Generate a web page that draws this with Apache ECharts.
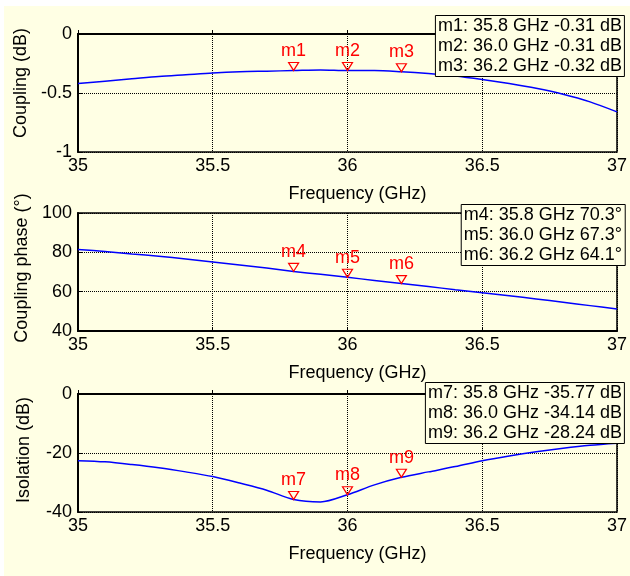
<!DOCTYPE html>
<html>
<head>
<meta charset="utf-8">
<script src="https://cdn.jsdelivr.net/npm/echarts@6/dist/echarts.min.js"></script>
<style>
  html, body { margin: 0; padding: 0; background: #fff; }
  #bg { position: absolute; left: 4px; top: 6px; right: 0; bottom: 0; background: #ffffe4; }
  #chart { position: absolute; left: 0; top: 0; width: 630px; height: 576px; }
</style>
</head>
<body>
<div id="bg"></div>
<div id="chart"></div>
<script>
// frequency points (GHz)
var freq = [35.0, 35.1, 35.2, 35.3, 35.4, 35.5, 35.6, 35.7, 35.8, 35.9, 36.0,
            36.1, 36.2, 36.3, 36.4, 36.5, 36.6, 36.7, 36.8, 36.9, 37.0];
var coupling = [-0.42, -0.40, -0.38, -0.36, -0.345, -0.33, -0.32, -0.315, -0.31, -0.305, -0.31,
                -0.31, -0.32, -0.335, -0.355, -0.385, -0.42, -0.46, -0.51, -0.575, -0.66];
var phase = [81.5, 80.4, 79.2, 78.0, 76.6, 75.1, 73.6, 72.0, 70.3, 68.8, 67.3,
             65.7, 64.1, 62.6, 61.0, 59.5, 57.9, 56.3, 54.6, 52.9, 51.2];
var isolation = [-22.6, -23.0, -23.9, -25.0, -26.4, -28.0, -30.2, -32.6, -35.77, -36.6, -34.14,
                 -30.8, -28.24, -26.4, -24.6, -22.6, -21.0, -19.6, -18.4, -17.4, -16.7];

// markers
var markerFreq = [35.8, 36.0, 36.2];
var couplingMarks = [-0.31, -0.31, -0.32];
var phaseMarks = [70.3, 67.3, 64.1];
var isolationMarks = [-35.77, -34.14, -28.24];

var chart = echarts.init(document.getElementById('chart'));
var font = 'Arial, "Liberation Sans", sans-serif';
var yellow = '#ffffe4';

function pairs(ys) {
  return freq.map(function (f, i) { return [f, ys[i]]; });
}

function marks(ys, first) {
  return markerFreq.map(function (f, i) {
    return { name: 'm' + (first + i), coord: [f, ys[i]] };
  });
}

function legendText(ys, first, unit, digits) {
  return markerFreq.map(function (f, i) {
    return 'm' + (first + i) + ': ' + f.toFixed(1) + ' GHz ' + ys[i].toFixed(digits) + unit;
  }).join('\n');
}

var tops = [34, 213, 394];
var yNames = ['Coupling (dB)', 'Coupling phase (°)', 'Isolation (dB)'];
var yRange = [[-1, 0, 0.5], [40, 100, 20], [-40, 0, 20]];
var yShift = [[0, 0, 0, 20], [0, 0, 0, 8], [0, 0, 0, 6]];

var grids = [], xAxes = [], yAxes = [];
tops.forEach(function (t, i) {
  grids.push({ left: 78, top: t, width: 542, height: 118, show: true,
               borderColor: '#000', borderWidth: 1.5, backgroundColor: 'transparent' });
  xAxes.push({
    type: 'value', gridIndex: i, min: 35, max: 37, interval: 0.5,
    name: 'Frequency (GHz)', nameLocation: 'middle', nameGap: 33,
    nameTextStyle: { color: '#000', fontSize: 18, fontFamily: font, padding: [0, 0, 0, 20] },
    axisLine: { show: true, lineStyle: { color: '#000', width: 2 } },
    axisTick: { show: true, inside: true, length: 4, lineStyle: { color: '#000' } },
    axisLabel: { color: '#000', fontSize: 18, fontFamily: font, margin: 5 },
    splitLine: { show: true, lineStyle: { color: '#000', type: 'dotted', width: 1 } }
  });
  yAxes.push({
    type: 'value', gridIndex: i, min: yRange[i][0], max: yRange[i][1], interval: yRange[i][2],
    name: yNames[i], nameLocation: 'middle', nameGap: 45,
    nameTextStyle: { color: '#000', fontSize: 18, fontFamily: font, padding: yShift[i] },
    axisLine: { show: true, lineStyle: { color: '#000', width: 2 } },
    axisTick: { show: true, inside: true, length: 4, lineStyle: { color: '#000' } },
    axisLabel: { color: '#000', fontSize: 18, fontFamily: font, margin: 6 },
    splitLine: { show: true, lineStyle: { color: '#000', type: 'dotted', width: 1 } }
  });
});

function lineSeries(i, ys, markYs, first) {
  return {
    type: 'line', xAxisIndex: i, yAxisIndex: i, data: pairs(ys),
    showSymbol: false, smooth: 0.3, silent: true,
    lineStyle: { color: '#0000ff', width: 1.5 },
    markPoint: {
      symbol: 'path://M0,0 L10,0 L5,8 Z', symbolSize: [10, 8], symbolOffset: [0, -4],
      itemStyle: { color: 'rgba(0,0,0,0)', borderColor: '#ff0000', borderWidth: 1.2 },
      label: { show: true, position: 'top', distance: 2, formatter: '{b}',
               color: '#ff0000', fontSize: 18, fontFamily: font },
      data: marks(markYs, first)
    }
  };
}

function box(top, text) {
  return {
    text: text, right: 5, top: top, padding: [1, 3, 1, 3],
    backgroundColor: yellow, borderColor: '#000', borderWidth: 1,
    textStyle: { color: '#000', fontSize: 18, fontWeight: 'normal', fontFamily: font, lineHeight: 20 }
  };
}

chart.setOption({
  animation: false,
  backgroundColor: 'transparent',
  title: [
    box(15, legendText(couplingMarks, 1, ' dB', 2)),
    box(204, legendText(phaseMarks, 4, '°', 1)),
    box(382, legendText(isolationMarks, 7, ' dB', 2))
  ],
  grid: grids,
  xAxis: xAxes,
  yAxis: yAxes,
  series: [
    lineSeries(0, coupling, couplingMarks, 1),
    lineSeries(1, phase, phaseMarks, 4),
    lineSeries(2, isolation, isolationMarks, 7)
  ]
});
</script>
</body>
</html>
